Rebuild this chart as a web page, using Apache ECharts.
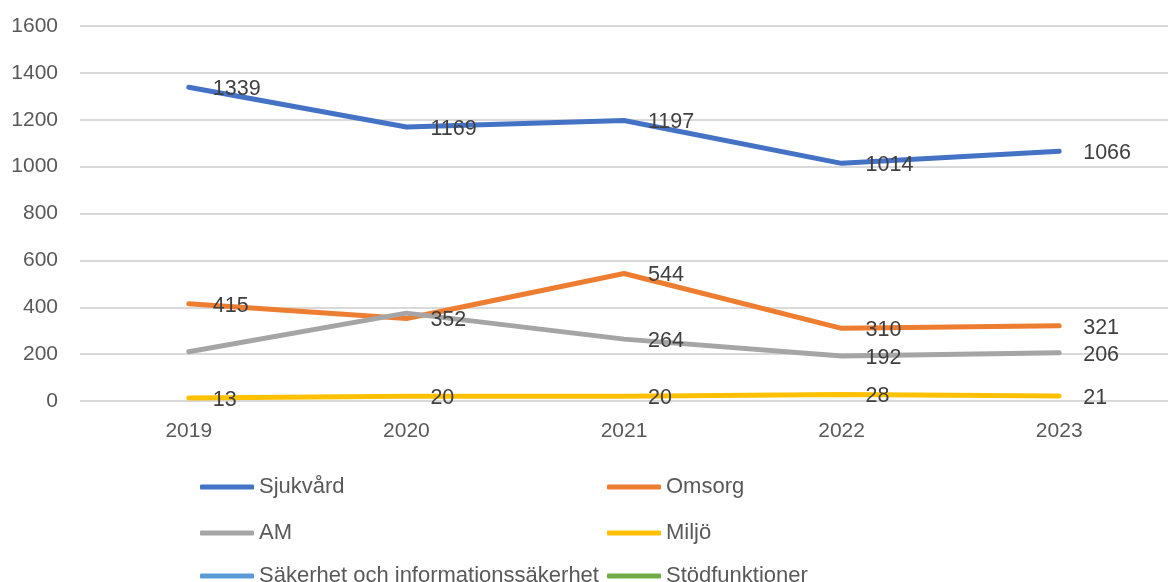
<!DOCTYPE html>
<html>
<head>
<meta charset="utf-8">
<script src="https://cdn.jsdelivr.net/npm/echarts@6/dist/echarts.min.js"></script>
<style>
  html, body { margin: 0; padding: 0; background: #fff; }
  #chart { width: 1168px; height: 582px; }
</style>
</head>
<body>
<div id="chart"></div>
<script>
// data
var years = ['2019', '2020', '2021', '2022', '2023'];
var sjukvard = [1339, 1169, 1197, 1014, 1066];
var omsorg = [415, 352, 544, 310, 321];
var am = [210, 375, 264, 192, 206];
var miljo = [13, 20, 20, 28, 21];
var sakerhet = [null, null, null, null, null];
var stod = [null, null, null, null, null];
// AM 2019/2020 have no label in the original
var amLabelShown = [false, false, true, true, true];

var font = 'Liberation Sans';

function makeSeries(name, values, color, labelShown) {
  return {
    name: name,
    type: 'line',
    data: values.map(function (v, i) {
      var item = { value: v };
      if (labelShown && !labelShown[i]) item.label = { show: false };
      return item;
    }),
    symbol: 'circle',
    symbolSize: 2,
    itemStyle: { color: color },
    lineStyle: { color: color, width: 5, cap: 'round' },
    label: {
      show: true,
      position: 'right',
      distance: 23,
      offset: [0, 2],
      color: '#404040',
      fontFamily: font,
      fontSize: 21.5
    },
    emphasis: { disabled: true },
    z: 2
  };
}

// one legend per entry so the two columns line up like the original
function legendItem(name, left, top) {
  return {
    left: left, top: top,
    itemWidth: 54, itemHeight: 5, icon: 'roundRect',
    padding: 0,
    textStyle: { color: '#595959', fontFamily: font, fontSize: 22 },
    data: [name]
  };
}

var chart = echarts.init(document.getElementById('chart'));
chart.setOption({
  animation: false,
  grid: { left: 80, top: 26, width: 1102, height: 375 },
  xAxis: {
    type: 'category',
    data: years,
    boundaryGap: true,
    axisLine: { show: false },
    axisTick: { show: false },
    axisLabel: { color: '#595959', fontFamily: font, fontSize: 21, margin: 20 }
  },
  yAxis: {
    type: 'value',
    min: 0,
    max: 1600,
    interval: 200,
    axisLine: { show: false },
    axisTick: { show: false },
    axisLabel: {
      color: '#595959', fontFamily: font, fontSize: 21, margin: 22,
      formatter: function (v) { return String(v); }
    },
    splitLine: { lineStyle: { color: '#D9D9D9', width: 2 } }
  },
  legend: [
    legendItem('Sjukvård', 200, 476),
    legendItem('Omsorg', 607, 476),
    legendItem('AM', 200, 522),
    legendItem('Miljö', 607, 522),
    legendItem('Säkerhet och informationssäkerhet', 200, 565),
    legendItem('Stödfunktioner', 607, 565)
  ],
  series: [
    makeSeries('Sjukvård', sjukvard, '#4472C4'),
    makeSeries('Omsorg', omsorg, '#ED7D31'),
    makeSeries('AM', am, '#A5A5A5', amLabelShown),
    makeSeries('Miljö', miljo, '#FFC000'),
    makeSeries('Säkerhet och informationssäkerhet', sakerhet, '#5B9BD5'),
    makeSeries('Stödfunktioner', stod, '#70AD47')
  ]
});
</script>
</body>
</html>
